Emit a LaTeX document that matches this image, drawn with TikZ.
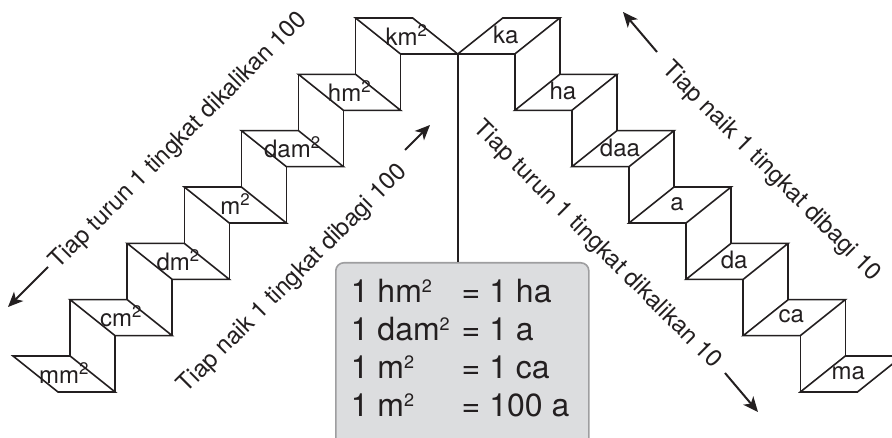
\documentclass[tikz,border=0pt]{standalone}
\usepackage{fontspec}
\setmainfont{TeX Gyre Heros}
\usepackage{xcolor}
\usepackage{tikz}
\usetikzlibrary{arrows.meta, positioning, calc}
\definecolor{ink}{RGB}{35,31,32}
\definecolor{boxfill}{RGB}{220,221,223}
\definecolor{boxline}{RGB}{158,158,160}
\newcommand{\kuadrat}{\textsuperscript{2}}
\newcommand{\kuadratbox}{\raisebox{10pt}{\fontsize{18}{18}\selectfont 2}}

\begin{document}
\begin{tikzpicture}[x=1pt, y=-1pt, line width=1.6pt, color=ink,
    steplabel/.style={font=\fontsize{24}{24}\selectfont, inner sep=0pt},
    slopetext/.style={font=\fontsize{24}{24}\selectfont, inner sep=0pt},
    guide/.style={-{Stealth[length=15pt, width=13pt, inset=4pt]}, line width=2pt},
    kotak/.style={draw=boxline, fill=boxfill, rounded corners=8pt, line width=1.6pt}]
  \useasboundingbox (0,0) rectangle (892,438);

  % tangga kiri (luas)
  \foreach \lbl [count=\k from 0] in {mm\kuadrat, cm\kuadrat, dm\kuadrat, m\kuadrat, dam\kuadrat, hm\kuadrat, km\kuadrat}{
    \coordinate (L\k) at (13+57.1*\k, 356-56.33*\k);
    \draw (L\k) -- ++(57.1,0) -- ++(45,36) -- ++(-57.1,0) -- cycle;
    \node[steplabel] (l\k) at ($(L\k)+(51,17)$) {\lbl};
    \ifnum\k>0
      \draw (L\k) -- ++(0,56.33);
      \draw ($(L\k)+(45,36)$) -- ++(0,56.33);
    \fi
  }

  % tangga kanan (are)
  \foreach \lbl [count=\k from 0] in {ma, ca, da, a, daa, ha, ka}{
    \coordinate (R\k) at (902.4-57.1*\k, 356-56.33*\k);
    \draw (R\k) -- ++(-57.1,0) -- ++(-45,36) -- ++(57.1,0) -- cycle;
    \node[steplabel] (r\k) at ($(R\k)+(-54,17)$) {\lbl};
    \ifnum\k>0
      \draw (R\k) -- ++(0,56.33);
      \draw ($(R\k)+(-45,36)$) -- ++(0,56.33);
    \fi
  }

  \coordinate (apex) at ($(L6)+(102.1,36)$);

  % kotak kesetaraan
  \node[kotak, anchor=north west, minimum width=253pt, minimum height=190pt] (rumus) at (335,262) {};
  \node[anchor=base west, inner sep=0pt, font=\fontsize{32}{38}\selectfont] (isi) at (350,303) {%
    \begin{tabular}[t]{@{}l@{\hspace{12pt}}l@{}}
      1 hm\kuadratbox  & = 1 ha\\
      1 dam\kuadratbox & = 1 a\\
      1 m\kuadratbox   & = 1 ca\\
      1 m\kuadratbox   & = 100 a
    \end{tabular}};
  \draw (apex) -- (apex |- rumus.north);

  % keterangan miring
  \node[slopetext, rotate=45] (turunkiri) at (179,141) {Tiap turun 1 tingkat dikalikan 100};
  \node[slopetext, rotate=45] (naikkiri) at (293,279) {Tiap naik 1 tingkat dibagi 100};
  \node[slopetext, rotate=-45] (turunkanan) at (597,245) {Tiap turun 1 tingkat dikalikan 10};
  \node[slopetext, rotate=-45] (naikkanan) at (771,172) {Tiap naik 1 tingkat dibagi 10};

  \coordinate (a1s) at (48,267);  \coordinate (a1e) at (8,307);
  \coordinate (a2s) at (405,150); \coordinate (a2e) at (430,125);
  \coordinate (a3s) at (725,373); \coordinate (a3e) at (758,412);
  \coordinate (a4s) at (657,52);  \coordinate (a4e) at (623,12);
  \draw[guide] (a1s) -- (a1e);
  \draw[guide] (a2s) -- (a2e);
  \draw[guide] (a3s) -- (a3e);
  \draw[guide] (a4s) -- (a4e);
\end{tikzpicture}
\end{document}
